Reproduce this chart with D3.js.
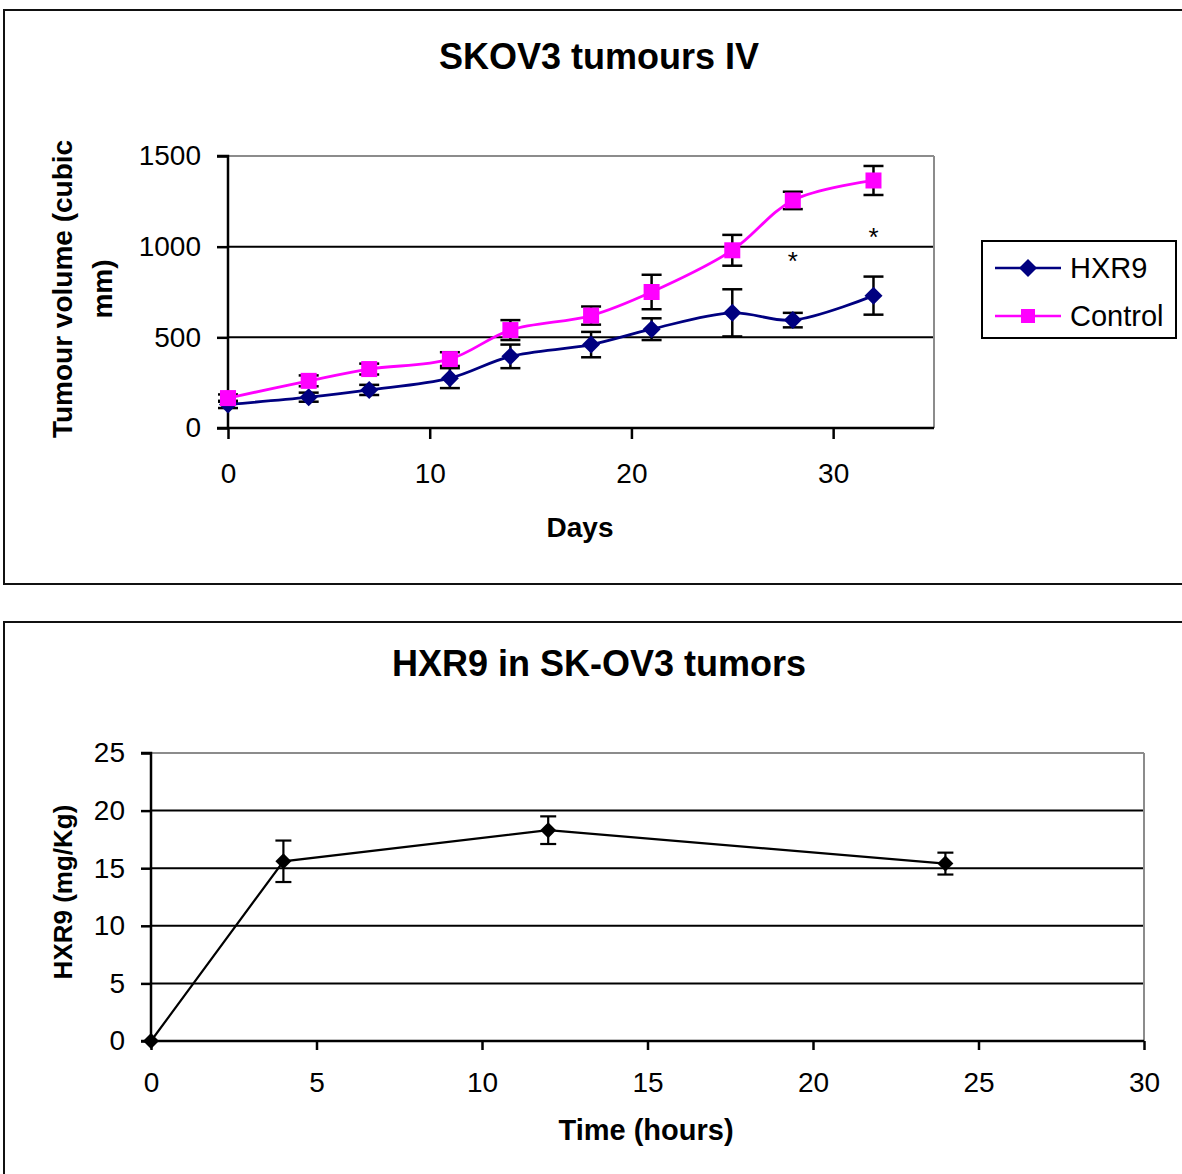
<!DOCTYPE html>
<html><head><meta charset="utf-8">
<script src="https://cdn.jsdelivr.net/npm/d3@7"></script>
<style>
html,body{margin:0;padding:0;background:#fff;}
svg{display:block;font-family:"Liberation Sans",Arial,sans-serif;}
</style></head>
<body>
<svg id="c" width="1182" height="1174"></svg>
<script>
// ---------- Chart 1 data: SKOV3 tumours IV ----------
const days = [0, 4, 7, 11, 14, 18, 21, 25, 28, 32];
const hxr9Volume = [130, 170, 210, 275, 395, 460, 545, 635, 595, 730];
const hxr9Err    = [20, 25, 28, 55, 65, 70, 60, 130, 40, 105];
const controlVolume = [165, 260, 325, 380, 540, 620, 750, 980, 1255, 1365];
const controlErr    = [20, 30, 30, 38, 55, 50, 95, 85, 48, 80];
const volumeTicks = [0, 500, 1000, 1500];
const dayTicks = [0, 10, 20, 30];
const significantDays = [28, 32];
const seriesNames = ["HXR9", "Control"];

// ---------- Chart 2 data: HXR9 in SK-OV3 tumors ----------
const hours = [0, 4, 12, 24];
const hxr9Conc = [0, 15.6, 18.3, 15.4];
const hxr9ConcErr = [0, 1.8, 1.2, 0.95];
const concTicks = [0, 5, 10, 15, 20, 25];
const hourTicks = [0, 5, 10, 15, 20, 25, 30];

const svg = d3.select("#c");
const NAVY = "#000080", MAG = "#FF00FF";
const FONT = "'Liberation Sans',Arial,sans-serif";

// outer frames
svg.append("rect").attr("x",4).attr("y",10).attr("width",1190).attr("height",574)
  .attr("fill","none").attr("stroke","#111").attr("stroke-width",2);
svg.append("rect").attr("x",4).attr("y",622).attr("width",1190).attr("height",600)
  .attr("fill","none").attr("stroke","#111").attr("stroke-width",2);

function diamond(g, cx, cy, r, fill){
  g.append("path").attr("d",`M${cx},${cy-r}L${cx+r},${cy}L${cx},${cy+r}L${cx-r},${cy}Z`).attr("fill",fill);
}

// ================= Chart 1 =================
{
  const x = d3.scaleLinear().domain([0,35]).range([228,934]);
  const y = d3.scaleLinear().domain([0,1500]).range([428,156]);
  const g = svg.append("g");

  g.selectAll(".grid").data(volumeTicks.filter(v=>v>0 && v<1500)).join("line")
    .attr("x1",x(0)).attr("x2",x(35)).attr("y1",d=>y(d)).attr("y2",d=>y(d))
    .attr("stroke","#000").attr("stroke-width",2);
  g.append("line").attr("x1",x(0)).attr("x2",x(35)).attr("y1",y(1500)).attr("y2",y(1500))
    .attr("stroke","#8c8c8c").attr("stroke-width",2);
  g.append("line").attr("x1",x(35)).attr("x2",x(35)).attr("y1",y(1500)).attr("y2",y(0))
    .attr("stroke","#8c8c8c").attr("stroke-width",2);

  const ya = d3.axisLeft(y).tickValues(volumeTicks).tickSize(11).tickPadding(16).tickFormat(d3.format("d"));
  const yg = g.append("g").attr("transform",`translate(${x(0)},0)`).call(ya);
  const xa = d3.axisBottom(x).tickValues(dayTicks).tickSize(11).tickPadding(24).tickFormat(d3.format("d"));
  const xg = g.append("g").attr("transform",`translate(0,${y(0)})`).call(xa);
  [yg,xg].forEach(a=>{
    a.select(".domain").attr("stroke","#000").attr("stroke-width",2.5);
    a.selectAll(".tick line").attr("stroke","#000").attr("stroke-width",2.5);
    a.selectAll(".tick text").attr("font-size",28).attr("fill","#000").attr("font-family",FONT);
  });
  yg.select(".domain").attr("d",`M-11,${y(1500)}H0V${y(0)}H-11`);
  xg.select(".domain").attr("d",`M${x(0)},0H${x(35)}`);

  const series = [
    {vals: hxr9Volume, err: hxr9Err, color: NAVY, shape: "diamond"},
    {vals: controlVolume, err: controlErr, color: MAG, shape: "square"}
  ];
  series.forEach(s=>{
    days.forEach((d,i)=>{
      const cx = x(d), t = y(s.vals[i]+s.err[i]), b = y(s.vals[i]-s.err[i]);
      g.append("line").attr("x1",cx).attr("x2",cx).attr("y1",t).attr("y2",b).attr("stroke","#000").attr("stroke-width",2.5);
      [t,b].forEach(yy=>g.append("line").attr("x1",cx-10).attr("x2",cx+10).attr("y1",yy).attr("y2",yy).attr("stroke","#000").attr("stroke-width",2.5));
    });
  });
  series.forEach(s=>{
    const line = d3.line().x((d,i)=>x(days[i])).y(d=>y(d)).curve(d3.curveCatmullRom.alpha(0.5));
    g.append("path").attr("d",line(s.vals)).attr("fill","none").attr("stroke",s.color).attr("stroke-width",2.8);
  });
  series.forEach(s=>{
    days.forEach((d,i)=>{
      const cx = x(d), cy = y(s.vals[i]);
      if(s.shape==="diamond") diamond(g,cx,cy,9,s.color);
      else g.append("rect").attr("x",cx-8).attr("y",cy-8).attr("width",16).attr("height",16).attr("fill",s.color);
    });
  });
  g.selectAll(".star").data(significantDays).join("text")
    .attr("x",d=>x(d)).attr("y",(d,i)=>i===0?y(1000)+23:y(1000)-1)
    .attr("text-anchor","middle").attr("font-size",26).attr("fill","#000").text("*");

  svg.append("text").attr("x",599).attr("y",69).attr("text-anchor","middle")
    .attr("font-size",36).attr("font-weight","bold").text("SKOV3 tumours IV");
  svg.append("text").attr("x",580).attr("y",537).attr("text-anchor","middle")
    .attr("font-size",28).attr("font-weight","bold").text("Days");
  const yt = svg.append("text").attr("transform","translate(72,289) rotate(-90)")
    .attr("text-anchor","middle").attr("font-size",28).attr("font-weight","bold");
  yt.append("tspan").attr("x",0).attr("dy",0).text("Tumour volume (cubic");
  yt.append("tspan").attr("x",0).attr("dy",40).text("mm)");

  const lg = svg.append("g");
  lg.append("rect").attr("x",982).attr("y",241).attr("width",194).attr("height",97)
    .attr("fill","#fff").attr("stroke","#000").attr("stroke-width",2);
  const ly = [268, 316];
  seriesNames.forEach((n,i)=>{
    lg.append("line").attr("x1",995).attr("x2",1061).attr("y1",ly[i]).attr("y2",ly[i])
      .attr("stroke",series[i].color).attr("stroke-width",2.5);
    if(i===0) diamond(lg,1028,ly[i],9,NAVY);
    else lg.append("rect").attr("x",1021).attr("y",ly[i]-7).attr("width",14).attr("height",14).attr("fill",MAG);
    lg.append("text").attr("x",1070).attr("y",ly[i]+10).attr("font-size",29).attr("fill","#000").text(n);
  });
}

// ================= Chart 2 =================
{
  const x = d3.scaleLinear().domain([0,30]).range([151,1144]);
  const y = d3.scaleLinear().domain([0,25]).range([1041,753]);
  const g = svg.append("g");

  g.selectAll(".grid").data(concTicks.filter(v=>v>0 && v<25)).join("line")
    .attr("x1",x(0)).attr("x2",x(30)).attr("y1",d=>y(d)).attr("y2",d=>y(d))
    .attr("stroke","#000").attr("stroke-width",2);
  g.append("line").attr("x1",x(0)).attr("x2",x(30)).attr("y1",y(25)).attr("y2",y(25))
    .attr("stroke","#8c8c8c").attr("stroke-width",2);
  g.append("line").attr("x1",x(30)).attr("x2",x(30)).attr("y1",y(25)).attr("y2",y(0))
    .attr("stroke","#8c8c8c").attr("stroke-width",2);

  const ya = d3.axisLeft(y).tickValues(concTicks).tickSize(10).tickPadding(16).tickFormat(d3.format("d"));
  const yg = g.append("g").attr("transform",`translate(${x(0)},0)`).call(ya);
  const xa = d3.axisBottom(x).tickValues(hourTicks).tickSize(9).tickPadding(22).tickFormat(d3.format("d"));
  const xg = g.append("g").attr("transform",`translate(0,${y(0)})`).call(xa);
  [yg,xg].forEach(a=>{
    a.select(".domain").attr("stroke","#000").attr("stroke-width",2.5);
    a.selectAll(".tick line").attr("stroke","#000").attr("stroke-width",2.5);
    a.selectAll(".tick text").attr("font-size",28).attr("fill","#000").attr("font-family",FONT);
  });
  yg.select(".domain").attr("d",`M-10,${y(25)}H0V${y(0)}H-10`);
  xg.select(".domain").attr("d",`M${x(0)},0H${x(30)}`);

  hours.forEach((h,i)=>{
    if(hxr9ConcErr[i]<=0) return;
    const cx = x(h), t = y(hxr9Conc[i]+hxr9ConcErr[i]), b = y(hxr9Conc[i]-hxr9ConcErr[i]);
    g.append("line").attr("x1",cx).attr("x2",cx).attr("y1",t).attr("y2",b).attr("stroke","#000").attr("stroke-width",2.2);
    [t,b].forEach(yy=>g.append("line").attr("x1",cx-8).attr("x2",cx+8).attr("y1",yy).attr("y2",yy).attr("stroke","#000").attr("stroke-width",2.2));
  });
  const line = d3.line().x((d,i)=>x(hours[i])).y(d=>y(d));
  g.append("path").attr("d",line(hxr9Conc)).attr("fill","none").attr("stroke","#000").attr("stroke-width",2.2);
  hours.forEach((h,i)=>diamond(g,x(h),y(hxr9Conc[i]),8,"#000"));

  svg.append("text").attr("x",599).attr("y",676).attr("text-anchor","middle")
    .attr("font-size",36).attr("font-weight","bold").text("HXR9 in SK-OV3 tumors");
  svg.append("text").attr("x",646).attr("y",1140).attr("text-anchor","middle")
    .attr("font-size",29).attr("font-weight","bold").text("Time (hours)");
  svg.append("text").attr("transform","translate(72,892) rotate(-90)")
    .attr("text-anchor","middle").attr("font-size",26).attr("font-weight","bold").text("HXR9 (mg/Kg)");
}
</script>
</body></html>
